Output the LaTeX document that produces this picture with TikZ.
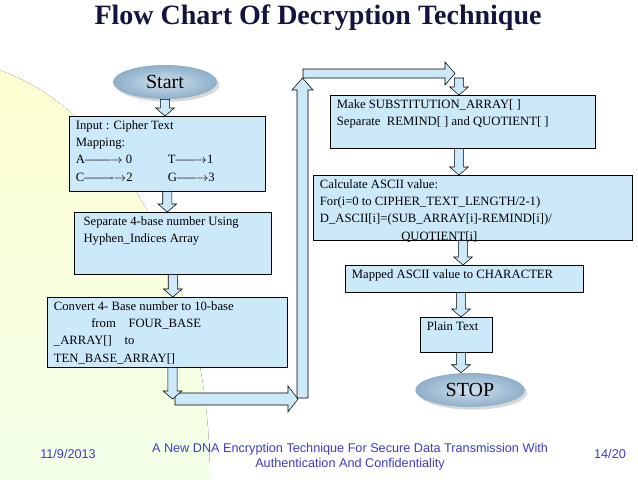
\documentclass[tikz,border=0pt]{standalone}
\usepackage{fontspec}
\setmainfont{Liberation Serif}
\newfontfamily\foot{Liberation Sans}
\usetikzlibrary{calc,shadows,shapes.geometric}
\definecolor{boxblue}{HTML}{CCE9FA}
\definecolor{ovalin}{HTML}{CFE0EE}
\definecolor{ovalout}{HTML}{8EAFC9}
\definecolor{footblue}{HTML}{3C3CC8}
\definecolor{titlecol}{HTML}{141440}
\newcommand{\boxtext}[3]{\parbox[c][#2][t]{#1}{\raggedright\leftskip=5pt\vspace*{3pt}#3}}
\newcommand{\fat}[2]{\path let \p1=#1, \p2=#2 in [draw=black, fill=boxblue]
  (\x1-3.4pt,\y1) -- (\x1-3.4pt,\y2+6pt) -- (\x1-7pt,\y2+6pt) -- (\x1,\y2)
  -- (\x1+7pt,\y2+6pt) -- (\x1+3.4pt,\y2+6pt) -- (\x1+3.4pt,\y1) -- cycle;}
\tikzset{
  box/.style={draw, fill=boxblue, inner sep=0pt, anchor=north west,
    font=\fontsize{9.5}{13}\selectfont},
  oval/.style={ellipse, inner color=ovalin, outer color=ovalout,
    drop shadow={shadow xshift=2pt, shadow yshift=-2pt, fill=gray!60},
    minimum width=78pt, minimum height=25.5pt, font=\fontsize{15}{15}\selectfont}
}
\begin{document}
\begin{tikzpicture}[x=0.75pt,y=-0.75pt]
\useasboundingbox (0,0) rectangle (638,479);
% background
\begin{scope}
\clip (0,0) rectangle (638,479);
\fill[top color=yellow!18, bottom color=cyan!10] (-60,480) ellipse (270 and 420);
\end{scope}
\node[font=\fontsize{21}{21}\selectfont\bfseries, text=titlecol] (title) at (318,18) {Flow Chart Of Decryption Technique};

% left column
\node[oval] (start) at (165,82) {Start};
\node[box] (inp) at (69,116) {\boxtext{147pt}{56.25pt}{Input : Cipher Text\\ Mapping:\\
  \makebox[69pt][l]{A------$\rightarrow$ 0}T-----$\rightarrow$1\\
  \makebox[69pt][l]{C-------$\rightarrow$2}G-----$\rightarrow$3}};
\node[box] (sep) at (74,212) {\boxtext{147.75pt}{46.5pt}{\hspace*{2pt}Separate 4-base number Using\\ \hspace*{2pt}Hyphen\_Indices Array}};
\node[box] (conv) at (47,297) {\boxtext{180pt}{52.5pt}{Convert 4- Base number to 10-base\\
  \hspace*{28pt}from\quad FOUR\_BASE\\ \_ARRAY[]\quad to\\ TEN\_BASE\_ARRAY[]}};

% right column
\node[box] (make) at (330,95) {\boxtext{198.75pt}{39.75pt}{Make SUBSTITUTION\_ARRAY[ ]\\ Separate\ \ REMIND[ ] and QUOTIENT[ ]}};
\node[box] (calc) at (313,175) {\boxtext{239.25pt}{48.75pt}{Calculate ASCII value:\\
  For(i=0 to CIPHER\_TEXT\_LENGTH/2-1)\\ D\_ASCII[i]=(SUB\_ARRAY[i]-REMIND[i])/\\ \hspace*{61pt}QUOTIENT[i]}};
\node[box] (mapped) at (345,265) {\boxtext{178.5pt}{20.25pt}{Mapped ASCII value to CHARACTER}};
\node[box] (plain) at (420,317) {\boxtext{54pt}{26.25pt}{Plain Text}};
\node[oval, minimum width=82pt] (stop) at (470,390) {STOP};

\fat{(start.south)}{(start.south |- inp.north)}
\fat{(inp.south)}{(inp.south |- sep.north)}
\fat{(sep.south)}{(sep.south |- conv.north)}
\fat{(make.south -| 459,0)}{(calc.north -| 459,0)}
\fat{(calc.south -| 463,0)}{(mapped.north -| 463,0)}
\fat{(mapped.south -| 461,0)}{(plain.north -| 461,0)}
\fat{(plain.south -| 461,0)}{(stop.north -| 461,0)}

% long block arrows
\coordinate (turn) at (172.5,399);
\coordinate (top) at (459,78);
\draw[fill=boxblue] (175,393) -- (288,393) -- (288,386) -- (298,399) -- (288,412) -- (288,405) -- (175,405) -- cycle;
\fat{(conv.south -| turn)}{(turn)}
\draw[fill=boxblue] (303,69) -- (445,69) -- (445,62) -- (455,73.5) -- (445,85) -- (445,78) -- (303,78) -- cycle;
\draw[fill=boxblue] (297,398) -- (297,90) -- (292,90) -- (302.5,78) -- (313,90) -- (308,90) -- (308,398) -- cycle;
\fat{(top)}{(make.north -| top)}

% footer
\begin{scope}[font=\foot\fontsize{9.5}{11.5}\selectfont, text=footblue]
\node (date) at (68,454) {11/9/2013};
\node[align=center] (caption) at (350,457) {A New DNA Encryption Technique For Secure Data Transmission With\\ Authentication And Confidentiality};
\node (page) at (610,454) {14/20};
\end{scope}
\end{tikzpicture}
\end{document}
